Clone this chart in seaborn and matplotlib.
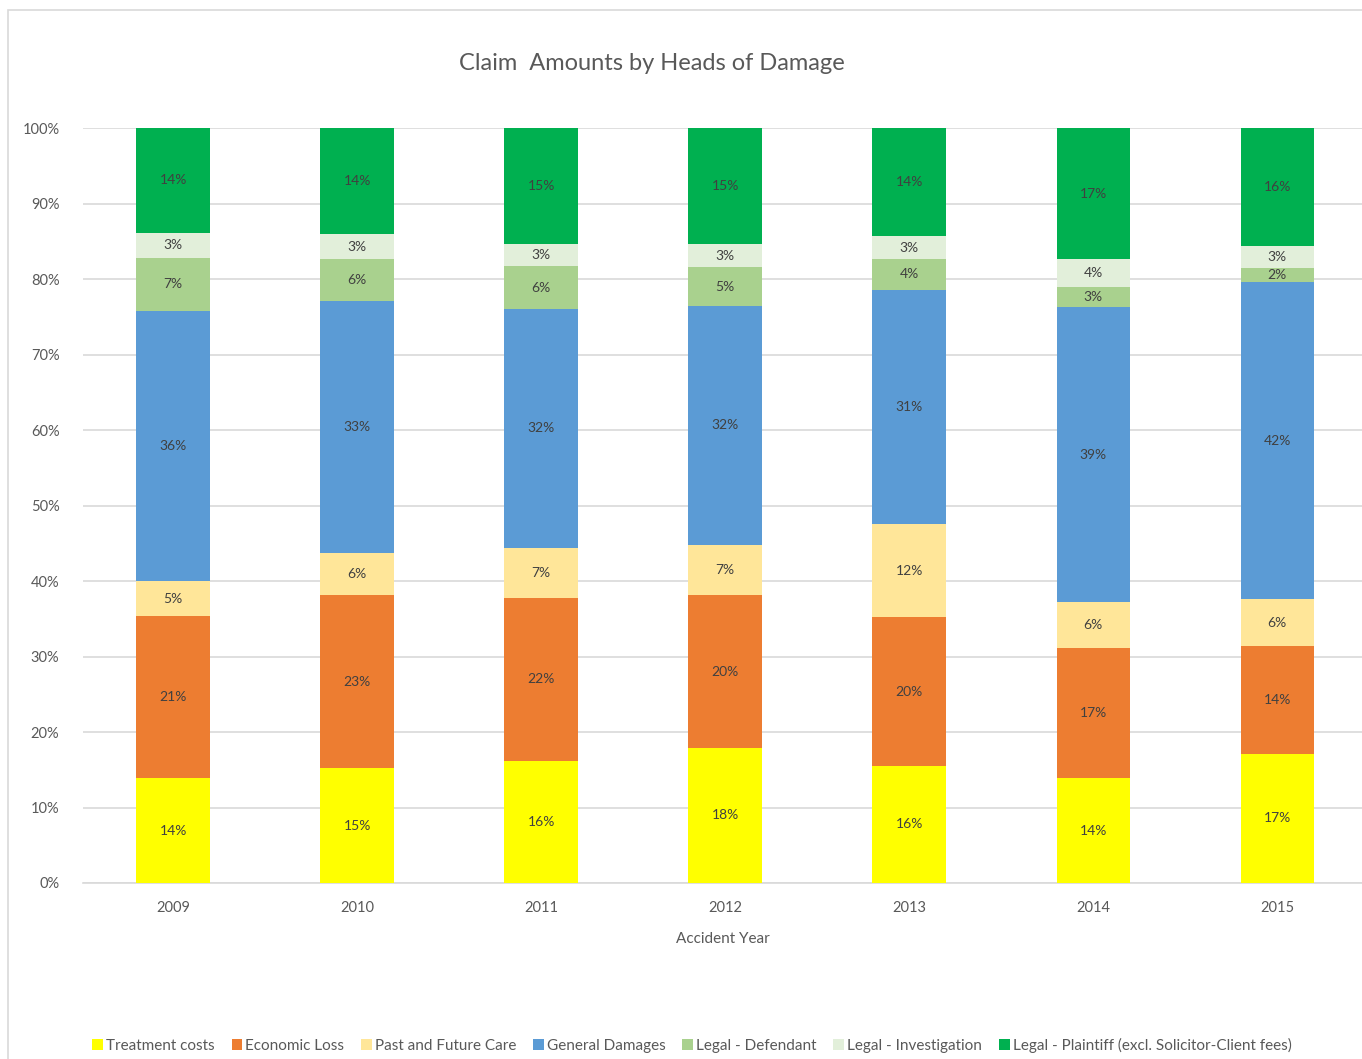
import numpy as np
import pandas as pd
import matplotlib
matplotlib.use("Agg")
import matplotlib.pyplot as plt
from matplotlib.patches import Rectangle
import seaborn as sns

# Share of total claim amount (%) by head of damage and accident year
years = ["2009", "2010", "2011", "2012", "2013", "2014", "2015"]
treatment_costs = [13.9, 15.2, 16.2, 17.9, 15.5, 13.9, 17.1]
economic_loss = [21.4, 22.9, 21.6, 20.2, 19.7, 17.2, 14.3]
past_future_care = [4.7, 5.6, 6.6, 6.7, 12.3, 6.1, 6.2]
general_damages = [35.8, 33.4, 31.6, 31.6, 31.1, 39.1, 42.0]
legal_defendant = [7.0, 5.6, 5.7, 5.2, 4.0, 2.7, 1.9]
legal_investigation = [3.3, 3.2, 3.0, 3.0, 3.1, 3.6, 2.9]
legal_plaintiff = [13.9, 14.1, 15.3, 15.4, 14.3, 17.4, 15.6]

series_names = [
    "Treatment costs",
    "Economic Loss",
    "Past and Future Care",
    "General Damages",
    "Legal - Defendant",
    "Legal - Investigation",
    "Legal - Plaintiff (excl. Solicitor-Client fees)",
]
series_values = [treatment_costs, economic_loss, past_future_care, general_damages,
                 legal_defendant, legal_investigation, legal_plaintiff]
colors = ["#FFFF00", "#ED7D31", "#FFE699", "#5B9BD5", "#A9D18E", "#E2EFDA", "#00B050"]

sns.set_theme(style="white")
plt.rcParams["font.family"] = ["Lato", "DejaVu Sans"]

text_color = "#595959"
label_color = "#404040"

fig = plt.figure(figsize=(13.62, 10.59), dpi=100)
ax = fig.add_axes([83 / 1362, 1 - 883 / 1059, (1362 - 83) / 1362, (883 - 128) / 1059])

# Outer chart frame
fig.patches.append(Rectangle((8 / 1362, -0.05), 1.1, 1 - 10 / 1059 + 0.05,
                             transform=fig.transFigure, fill=False,
                             edgecolor="#D9D9D9", linewidth=1.2, zorder=0))

bottoms = np.zeros(len(years))
for name, vals, col in zip(series_names, series_values, colors):
    df = pd.DataFrame({"year": years, "share": vals})
    sns.barplot(data=df, x="year", y="share", color=col, width=0.40,
                bottom=bottoms.copy(), ax=ax, label=name, linewidth=0,
                saturation=1, errorbar=None, zorder=3)
    for i, v in enumerate(vals):
        ax.text(i, bottoms[i] + v / 2, f"{round(v):d}%", ha="center", va="center",
                fontsize=10, color=label_color, zorder=4)
    bottoms = bottoms + np.array(vals)

ax.set_xlim(-0.49, 6.46)
ax.set_ylim(0, 100)
ax.set_yticks(np.arange(0, 101, 10))
ax.set_yticklabels([f"{t}%" for t in range(0, 101, 10)])
ax.yaxis.grid(True, color="#D9D9D9", linewidth=1.2, zorder=0)
ax.set_axisbelow(True)
for s in ["top", "right", "left"]:
    ax.spines[s].set_visible(False)
ax.spines["bottom"].set_color("#D9D9D9")
ax.spines["bottom"].set_linewidth(1.2)
ax.tick_params(axis="both", length=0, labelsize=10.5, colors=text_color)
ax.tick_params(axis="y", pad=17)
ax.tick_params(axis="x", pad=13)
ax.set_ylabel("")
ax.set_xlabel("Accident Year", fontsize=11, color=text_color, labelpad=12)

fig.text(652 / 1362, 1 - 63 / 1059, "Claim  Amounts by Heads of Damage",
         ha="center", va="center", fontsize=17, color=text_color)

handles, labels = ax.get_legend_handles_labels()
if ax.get_legend() is not None:
    ax.get_legend().remove()
fig.legend(handles, labels, loc="center", bbox_to_anchor=(692 / 1362, 1 - 1045 / 1059),
           ncol=7, frameon=False, fontsize=11, labelcolor=text_color,
           handlelength=0.7, handleheight=0.7, handletextpad=0.2, columnspacing=1.1)

fig.savefig("out.png", dpi=100)
